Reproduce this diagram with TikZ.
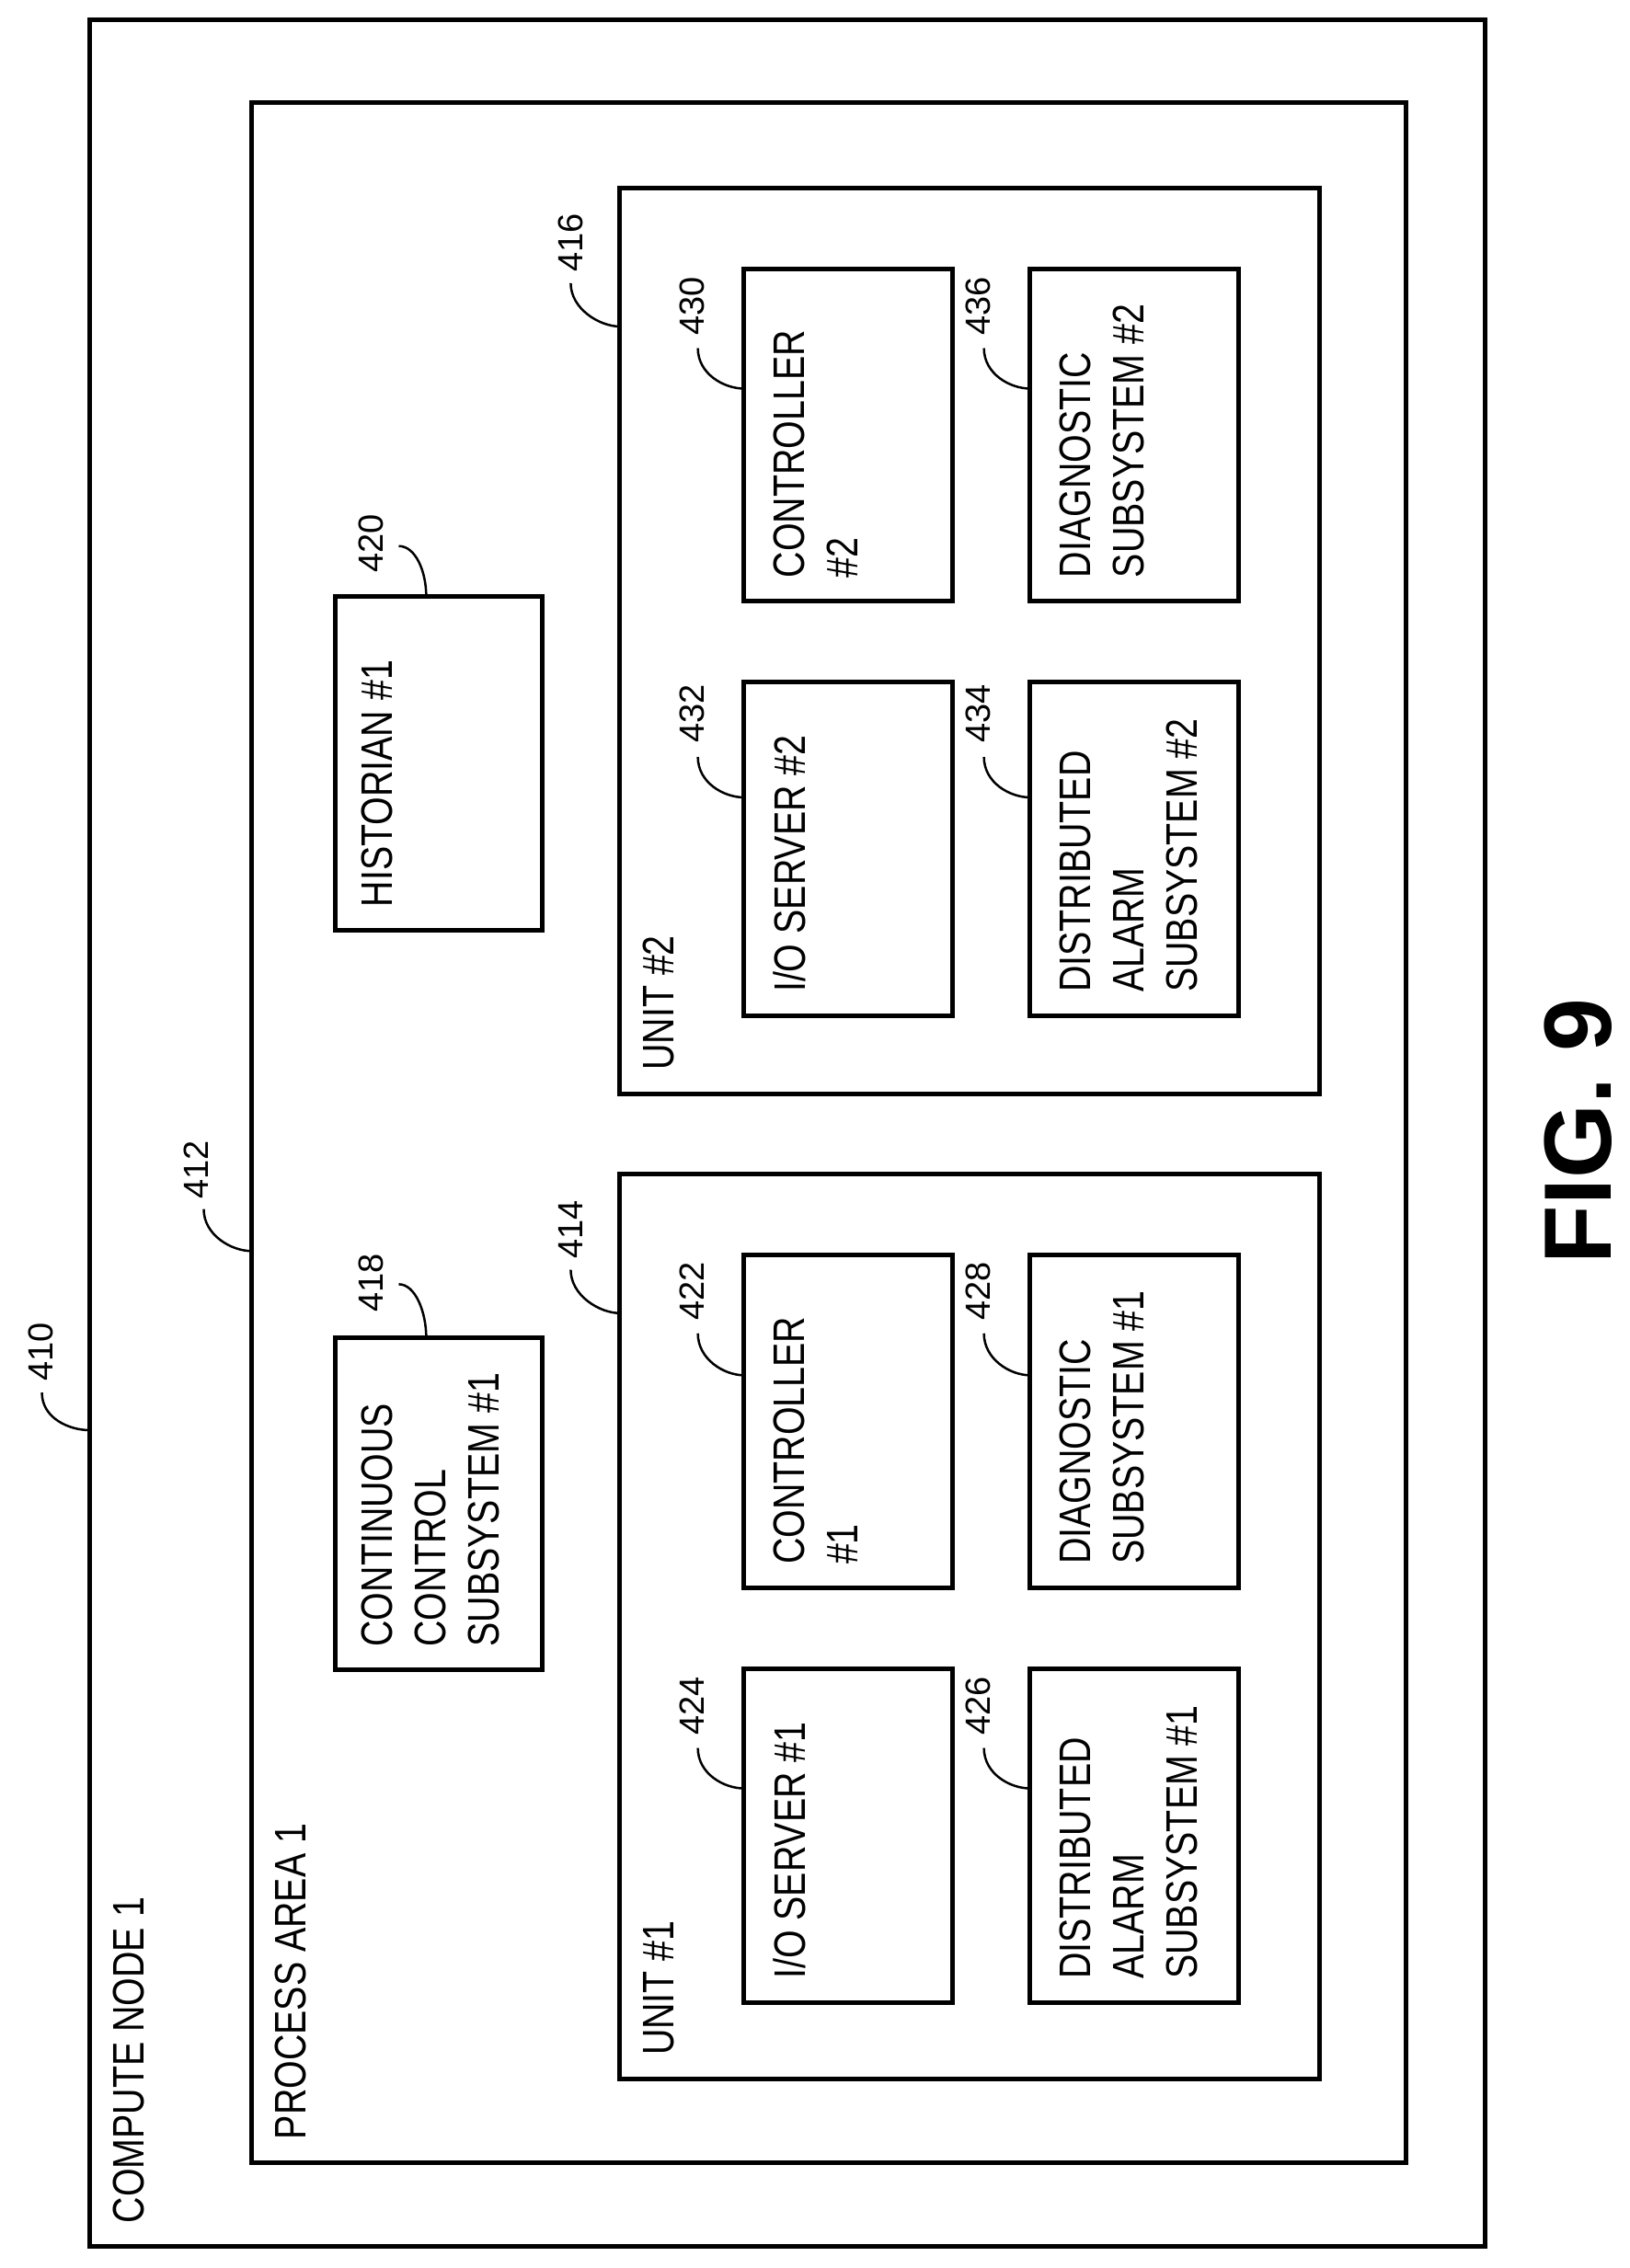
\documentclass[tikz,border=0pt]{standalone}
\usepackage{fontspec}
\setmainfont[FakeStretch=0.82]{Liberation Sans}
\newfontfamily\figfont{Liberation Sans}
\usetikzlibrary{fit}
\begin{document}
\begin{tikzpicture}[x=1.571pt,y=-1.571pt,
  box/.style={draw,line width=5pt,inner sep=0pt},
  txt/.style={rotate=90,anchor=north west,inner sep=0pt,align=left,font=\fontsize{48}{58}\selectfont},
  lab/.style={rotate=90,inner sep=0pt,font=\figfont\fontsize{38}{40}\selectfont},
  lead/.style={line width=2.5pt}]
\useasboundingbox (0,0) rectangle (1128,1570);
% boxes
\node[box,fit={(62,14)(1028,1555)}] (b410) {};
\node[box,fit={(174,71)(973,1497)}] (b412) {};
\node[box,fit={(429,130)(913,757)}] (b416) {};
\node[box,fit={(429,813)(913,1439)}] (b414) {};
\node[box,fit={(232,413)(375,644)}] (b420) {};
\node[box,fit={(232,926)(375,1156)}] (b418) {};
\node[box,fit={(515,186)(659,416)}] (b430) {};
\node[box,fit={(713,186)(857,416)}] (b436) {};
\node[box,fit={(515,472)(659,703)}] (b432) {};
\node[box,fit={(713,472)(857,703)}] (b434) {};
\node[box,fit={(515,869)(659,1099)}] (b422) {};
\node[box,fit={(713,869)(857,1099)}] (b428) {};
\node[box,fit={(515,1155)(659,1386)}] (b424) {};
\node[box,fit={(713,1155)(857,1386)}] (b426) {};
% texts
\node[txt] (t410) at (78,1539) {COMPUTE NODE 1};
\node[txt] (t412) at (190,1481) {PROCESS AREA 1};
\node[txt] (t416) at (445,741) {UNIT \#2};
\node[txt] (t414) at (445,1423) {UNIT \#1};
\node[txt] (t420) at (250,628) {HISTORIAN \#1};
\node[txt] (t418) at (250,1140) {CONTINUOUS\\CONTROL\\SUBSYSTEM \#1};
\node[txt] (t430) at (535,400) {CONTROLLER\\\#2};
\node[txt] (t436) at (733,400) {DIAGNOSTIC\\SUBSYSTEM \#2};
\node[txt] (t432) at (535,687) {I/O SERVER \#2};
\node[txt] (t434) at (733,687) {DISTRIBUTED\\ALARM\\SUBSYSTEM \#2};
\node[txt] (t422) at (535,1083) {CONTROLLER\\\#1};
\node[txt] (t428) at (733,1083) {DIAGNOSTIC\\SUBSYSTEM \#1};
\node[txt] (t424) at (535,1370) {I/O SERVER \#1};
\node[txt] (t426) at (733,1370) {DISTRIBUTED\\ALARM\\SUBSYSTEM \#1};
% labels
\node[lab] (l410) at (28,936) {410};
\node[lab] (l412) at (136,810) {412};
\node[lab] (l416) at (395,168) {416};
\node[lab] (l414) at (395,851) {414};
\node[lab] (l420) at (257,376) {420};
\node[lab] (l418) at (257,888) {418};
\node[lab] (l430) at (479,212) {430};
\node[lab] (l436) at (677,212) {436};
\node[lab] (l432) at (479,494) {432};
\node[lab] (l434) at (677,494) {434};
\node[lab] (l422) at (479,894) {422};
\node[lab] (l428) at (677,894) {428};
\node[lab] (l424) at (479,1181) {424};
\node[lab] (l426) at (677,1181) {426};
% leader coordinates
\coordinate (s410) at (29,964);  \coordinate (e410) at (62,990);
\coordinate (s412) at (141,837); \coordinate (e412) at (174,866);
\coordinate (s416) at (395,196); \coordinate (e416) at (429,226);
\coordinate (s414) at (395,879); \coordinate (e414) at (429,909);
\coordinate (s430) at (483,241); \coordinate (e430) at (515,269);
\coordinate (s436) at (681,241); \coordinate (e436) at (713,269);
\coordinate (s432) at (483,524); \coordinate (e432) at (515,552);
\coordinate (s434) at (681,524); \coordinate (e434) at (713,552);
\coordinate (s422) at (483,923); \coordinate (e422) at (515,952);
\coordinate (s428) at (681,923); \coordinate (e428) at (713,952);
\coordinate (s424) at (483,1210); \coordinate (e424) at (515,1238);
\coordinate (s426) at (681,1210); \coordinate (e426) at (713,1238);
\foreach \n in {410,412,416,414,430,436,432,434,422,428,424,426}{
  \draw[lead] (s\n) .. controls ([yshift=-28pt]s\n) and ([xshift=-22pt]e\n) .. (e\n);
}
\coordinate (s420) at (276,378); \coordinate (e420) at (295,413);
\coordinate (s418) at (276,889); \coordinate (e418) at (295,926);
\foreach \n in {420,418}{
  \draw[lead] (s\n) .. controls ([xshift=18pt]s\n) and ([yshift=28pt]e\n) .. (e\n);
}
\node[rotate=90,inner sep=0pt,font=\figfont\bfseries\fontsize{104}{110}\selectfont] (fig) at (1092,783) {FIG. 9};
\end{tikzpicture}
\end{document}
